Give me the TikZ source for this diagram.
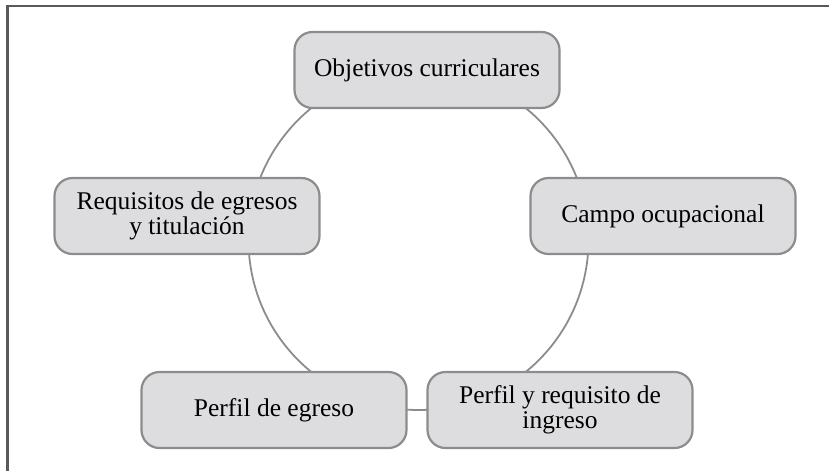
\documentclass[tikz,border=0pt]{standalone}
\usepackage{fontspec}
\setmainfont{Liberation Serif}
\definecolor{boxfill}{RGB}{221,221,223}
\definecolor{boxline}{RGB}{140,140,140}
\definecolor{framegray}{RGB}{90,90,90}
\tikzset{
	etapa/.style={draw=boxline, line width=2.2pt, fill=boxfill, rounded corners=18pt,
		minimum width=265pt, minimum height=76pt, inner sep=0pt, align=center,
		font=\fontsize{25.5}{25}\selectfont},
	ciclo/.style={draw=boxline, line width=1.8pt}
}
\begin{document}
\begin{tikzpicture}[x=1pt,y=-1pt]
		\useasboundingbox (0,0) rectangle (829,471);
		\draw[framegray, line width=2.5pt] (829,6) -- (7.5,6) -- (7.5,471);

		\coordinate (centro) at (418.5,240);
		\draw[ciclo] (centro) circle (170);

		\node[etapa] (objetivos) at (427,70) {Objetivos curriculares};
		\node[etapa] (campo) at (663,216) {Campo ocupacional};
		\node[etapa] (ingreso) at (560,410) {Perfil y requisito de\\ingreso};
		\node[etapa] (egreso) at (274,410) {Perfil de egreso};
		\node[etapa] (requisitos) at (187,216) {Requisitos de egresos\\y titulación};
	\end{tikzpicture}
\end{document}
